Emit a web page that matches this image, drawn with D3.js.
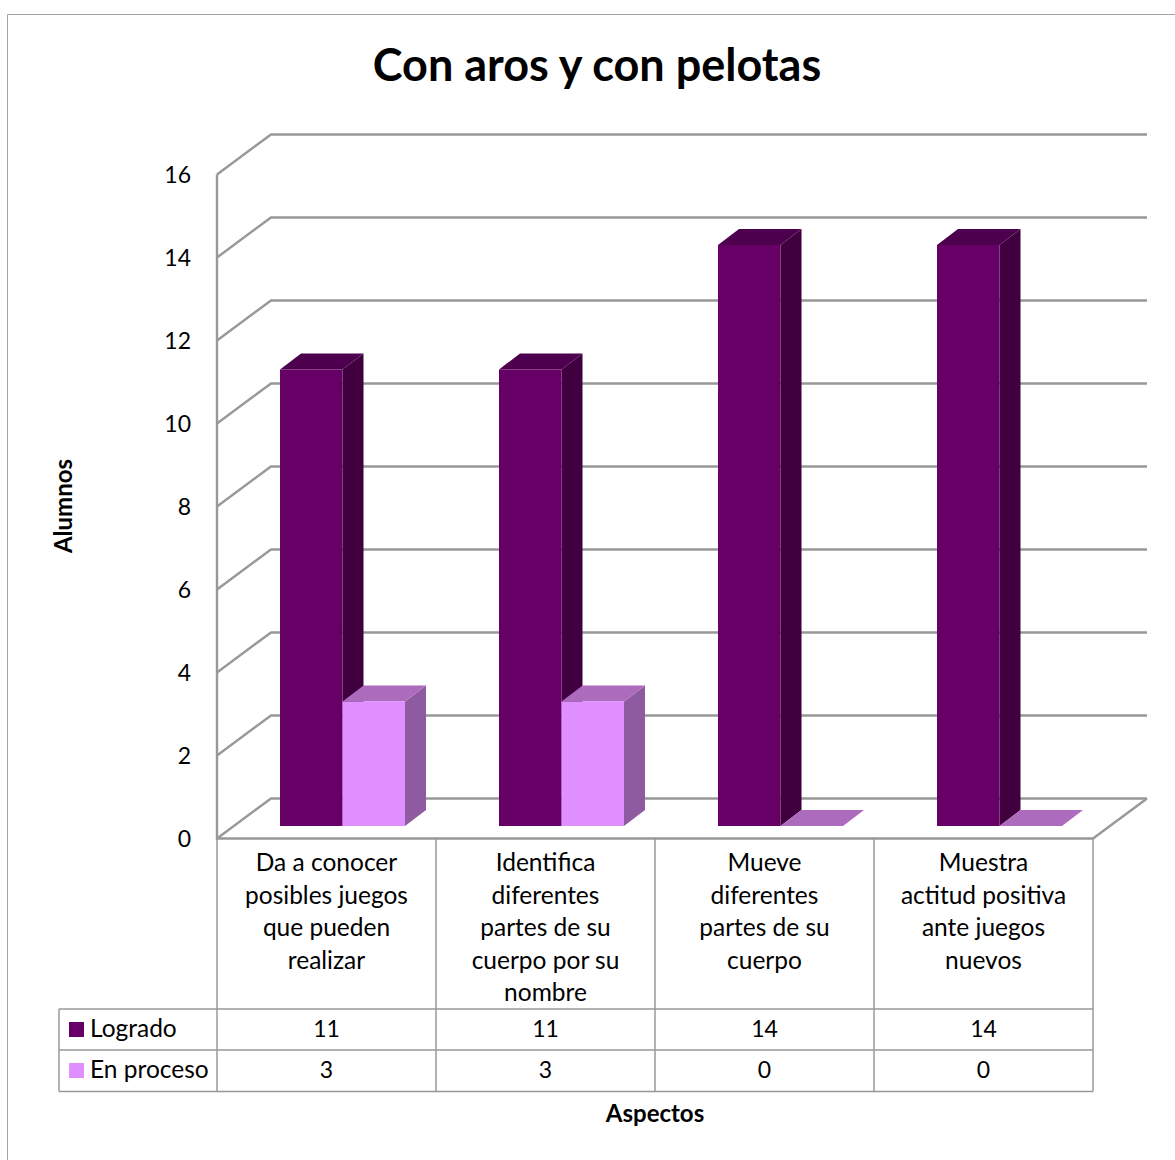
<!DOCTYPE html>
<html>
<head>
<meta charset="utf-8">
<script src="https://d3js.org/d3.v7.min.js"></script>
<style>
  html, body { margin: 0; padding: 0; background: #fff; }
  svg { display: block; }
  text { font-family: Lato, "Open Sans", sans-serif; fill: #000; }
</style>
</head>
<body>
<div id="chart"></div>
<script>
// data
var categories = ["Da a conocer", "Identifica", "Mueve", "Muestra"];
var categoryLines = [
    ["Da a conocer", "posibles juegos", "que pueden", "realizar"],
    ["Identifica", "diferentes", "partes de su", "cuerpo por su", "nombre"],
    ["Mueve", "diferentes", "partes de su", "cuerpo"],
    ["Muestra", "actitud positiva", "ante juegos", "nuevos"]
];
var seriesNames = ["Logrado", "En proceso"];
var logrado = [11, 11, 14, 14];
var enProceso = [3, 3, 0, 0];
var seriesValues = [logrado, enProceso];
var yTicks = [0, 2, 4, 6, 8, 10, 12, 14, 16];

var frontColors = ["#660066", "#df8fff"];
var topColors = ["#4d004d", "#ad6bbd"];
var sideColors = ["#40003f", "#8f5ba0"];
var gridColor = "#989898";

var svgWidth = 1175;
var svgHeight = 1160;

var plot = { left: 217, right: 1093, top: 174.5, bottom: 838.5 };
var wall = { dx: 54, dy: -40 };     // depth of the side wall
var barDepth = { dx: 21, dy: -16 }; // depth of each bar
var barLift = 12.5;                 // bars stand a bit behind the front edge
var table = { left: 59, row1: 1009, row2: 1050, row3: 1091.5 };

var svg = d3.select("#chart")
    .append("svg")
    .attr("width", svgWidth)
    .attr("height", svgHeight);

// outer frame
svg.append("path")
    .attr("d", `M7.5,${svgHeight} V14.5 H${svgWidth}`)
    .attr("fill", "none")
    .attr("stroke", "#a3a3a3")
    .attr("stroke-width", 1);

svg.append("text")
    .attr("x", 597)
    .attr("y", 81)
    .attr("text-anchor", "middle")
    .attr("font-size", 45)
    .attr("font-weight", "bold")
    .text("Con aros y con pelotas");

var xScale = d3.scaleBand()
    .domain(categories)
    .range([plot.left, plot.right]);

var yScale = d3.scaleLinear()
    .domain([0, 16])
    .range([plot.bottom, plot.top]);

// two bars per band, with the gap that the original leaves on the left
var xInner = d3.scaleBand()
    .domain(seriesNames)
    .range([63, 188]);

// walls and gridlines
var grid = svg.append("g")
    .attr("fill", "none")
    .attr("stroke", gridColor)
    .attr("stroke-width", 2.4);

grid.selectAll("path.tick")
    .data(yTicks)
    .enter()
    .append("path")
    .attr("class", "tick")
    .attr("d", d => `M${plot.left},${yScale(d)} l${wall.dx},${wall.dy} H${plot.right + wall.dx}`);

grid.append("path")
    .attr("d", `M${plot.left},${plot.top} V${plot.bottom} H${plot.right} l${wall.dx},${wall.dy}`);

// y axis labels
var yAxis = d3.axisLeft(yScale)
    .tickValues(yTicks)
    .tickSize(0)
    .tickPadding(26);

var yAxisGroup = svg.append("g")
    .attr("transform", `translate(${plot.left}, 1)`)
    .call(yAxis);

yAxisGroup.select(".domain").remove();
yAxisGroup.selectAll("text")
    .attr("font-size", 23)
    .style("font-family", "Lato, sans-serif");

// bars, left to right so each one covers the side of the one before
categories.forEach(function(cat, i) {
    seriesNames.forEach(function(name, s) {
        var value = seriesValues[s][i];
        var x0 = xScale(cat) + xInner(name);
        var x1 = x0 + xInner.bandwidth();
        var yBase = yScale(0) - barLift;
        var yTop = yScale(value) - barLift;
        var dx = barDepth.dx;
        var dy = barDepth.dy;

        var bar = svg.append("g").attr("class", "bar");

        bar.append("path")
            .attr("d", `M${x1},${yTop} l${dx},${dy} V${yBase + dy} L${x1},${yBase} Z`)
            .attr("fill", sideColors[s]);

        bar.append("path")
            .attr("d", `M${x0},${yTop} l${dx},${dy} H${x1 + dx} L${x1},${yTop} Z`)
            .attr("fill", topColors[s]);

        bar.append("rect")
            .attr("x", x0)
            .attr("y", yTop)
            .attr("width", x1 - x0)
            .attr("height", yBase - yTop)
            .attr("fill", frontColors[s]);
    });
});

// data table under the plot
var tableLines = svg.append("g")
    .attr("stroke", gridColor)
    .attr("stroke-width", 1.5);

xScale.domain().forEach(function(cat) {
    tableLines.append("line")
        .attr("x1", xScale(cat)).attr("x2", xScale(cat))
        .attr("y1", plot.bottom).attr("y2", table.row3);
});
tableLines.append("line")
    .attr("x1", plot.right).attr("x2", plot.right)
    .attr("y1", plot.bottom).attr("y2", table.row3);
tableLines.append("line")
    .attr("x1", table.left).attr("x2", table.left)
    .attr("y1", table.row1).attr("y2", table.row3);

[table.row1, table.row2, table.row3].forEach(function(y) {
    tableLines.append("line")
        .attr("x1", table.left).attr("x2", plot.right)
        .attr("y1", y).attr("y2", y);
});

categoryLines.forEach(function(lines, i) {
    var cx = xScale(categories[i]) + xScale.bandwidth() / 2;
    lines.forEach(function(line, j) {
        svg.append("text")
            .attr("x", cx)
            .attr("y", 871 + j * 32.5)
            .attr("text-anchor", "middle")
            .attr("font-size", 24.5)
            .text(line);
    });
});

seriesNames.forEach(function(name, s) {
    var rowTop = s === 0 ? table.row1 : table.row2;

    svg.append("rect")
        .attr("x", 69)
        .attr("y", rowTop + 13)
        .attr("width", 15)
        .attr("height", 15)
        .attr("fill", frontColors[s]);

    svg.append("text")
        .attr("x", 90)
        .attr("y", rowTop + 28)
        .attr("font-size", 24.5)
        .text(name);

    seriesValues[s].forEach(function(v, i) {
        svg.append("text")
            .attr("x", xScale(categories[i]) + xScale.bandwidth() / 2)
            .attr("y", rowTop + 28)
            .attr("text-anchor", "middle")
            .attr("font-size", 23)
            .text(v);
    });
});

// axis titles
svg.append("text")
    .attr("x", 655)
    .attr("y", 1122)
    .attr("text-anchor", "middle")
    .attr("font-size", 24)
    .attr("font-weight", "bold")
    .text("Aspectos");

svg.append("text")
    .attr("transform", "translate(72, 506) rotate(-90)")
    .attr("text-anchor", "middle")
    .attr("font-size", 24)
    .attr("font-weight", "bold")
    .text("Alumnos");
</script>
</body>
</html>
